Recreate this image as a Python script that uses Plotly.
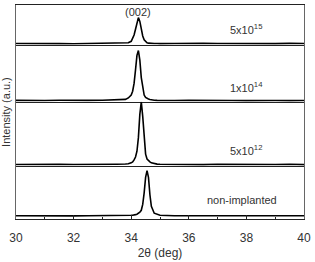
import plotly.graph_objects as go
from plotly.subplots import make_subplots

# --- data ---
two_theta = [30.0, 30.5, 31.0, 31.5, 32.0, 32.5, 33.0, 33.5, 33.8, 33.9, 34.0, 34.05,
             34.1, 34.15, 34.2, 34.25, 34.3, 34.35, 34.4, 34.45, 34.5, 34.55, 34.6,
             34.65, 34.7, 34.8, 34.9, 35.0, 35.5, 36.0, 36.5, 37.0, 37.5, 38.0, 38.5,
             39.0, 39.5, 40.0]

i_5e15 = [0.3, 0.0, 0.4, 0.1, 0.0, 0.3, 0.2, 0.3, 0.6, 1.0, 2.5, 5.0,
          9.0, 15.0, 23.0, 27.0, 23.0, 15.0, 8.0, 4.0, 2.0, 1.0, 0.6,
          0.4, 0.3, 0.2, 0.3, 0.1, 0.3, 0.0, 0.4, 0.2, 0.0, 0.5, 0.2,
          0.1, 0.4, 0.2]

i_1e14 = [0.5, 0.2, 0.4, 0.6, 0.3, 0.5, 0.7, 0.9, 1.5, 3.0, 6.0, 10.0,
          18.0, 32.0, 47.0, 52.0, 42.0, 24.0, 12.0, 6.0, 3.5, 2.5, 2.0,
          1.5, 1.0, 0.6, 0.5, 0.4, 0.3, 0.5, 0.2, 0.4, 0.3, 0.2, 0.5,
          0.3, 0.2, 0.4]

i_5e12 = [0.3, 0.5, 0.2, 0.4, 0.3, 0.2, 0.5, 0.6, 0.8, 1.0, 2.0, 3.0,
          5.0, 8.0, 14.0, 28.0, 52.0, 65.0, 50.0, 24.0, 11.0, 6.0, 4.0,
          3.0, 2.0, 1.0, 0.7, 0.5, 0.3, 0.4, 0.2, 0.5, 0.3, 0.2, 0.4,
          0.3, 0.5, 0.2]

i_non = [0.4, 0.2, 0.5, 0.3, 0.2, 0.4, 0.3, 0.4, 0.5, 0.6, 0.8, 0.9,
         1.0, 1.5, 2.0, 3.0, 4.0, 6.0, 12.0, 24.0, 40.0, 47.0, 40.0,
         22.0, 10.0, 3.0, 1.5, 0.8, 0.4, 0.3, 0.5, 0.2, 0.4, 0.3, 0.5,
         0.2, 0.4, 0.3]

series = [("5x10<sup>15</sup>", i_5e15), ("1x10<sup>14</sup>", i_1e14),
          ("5x10<sup>12</sup>", i_5e12), ("non-implanted", i_non)]

x_ticks = [30, 32, 34, 36, 38, 40]

FONT = "Liberation Sans, Arial"

# --- figure ---
fig = make_subplots(rows=4, cols=1, shared_xaxes=True, vertical_spacing=0,
                    row_heights=[41, 59, 66, 55])

y_ranges = [[-1, 40], [-1, 58], [-1, 65], [-3, 52]]
label_y = [15, 14, 15, 17]

for r, ((name, vals), yr, ly) in enumerate(zip(series, y_ranges, label_y), start=1):
    fig.add_trace(go.Scatter(x=two_theta, y=vals, mode="lines",
                             line=dict(color="black", width=1.6),
                             showlegend=False), row=r, col=1)
    fig.update_yaxes(range=yr, showticklabels=False, ticks="", showgrid=False,
                     zeroline=False, showline=True, linecolor="#666", linewidth=1,
                     mirror=True, row=r, col=1)
    fig.update_xaxes(range=[30, 40], showgrid=False, zeroline=False,
                     showline=True, linecolor="#222", linewidth=1,
                     mirror=(r == 1), row=r, col=1)
    fig.add_annotation(x=38.0 if r < 4 else 37.85, y=ly, xref=f"x{'' if r == 1 else r}",
                       yref=f"y{'' if r == 1 else r}", text=name, showarrow=False,
                       font=dict(family=FONT, size=11, color="#333"))

fig.add_annotation(x=34.25, y=33, xref="x", yref="y", text="(002)", showarrow=False,
                   font=dict(family=FONT, size=11, color="#333"))

fig.update_xaxes(showticklabels=False, ticks="")
fig.update_xaxes(row=4, col=1, showticklabels=True, tickvals=x_ticks,
                 ticks="inside", ticklen=4, tickcolor="#222", ticklabelstandoff=8,
                 minor=dict(ticks="inside", ticklen=2, dtick=1, tickcolor="#222"),
                 tickfont=dict(family=FONT, size=12, color="#333"),
                 title=dict(text="2θ (deg)", standoff=4,
                            font=dict(family=FONT, size=12, color="#333")))

fig.add_annotation(x=-0.035, y=0.5, xref="paper", yref="paper", text="Intensity (a.u.)",
                   textangle=-90, showarrow=False, xanchor="center",
                   font=dict(family=FONT, size=11, color="#333"))

fig.update_layout(width=315, height=262, margin=dict(l=16, r=7, t=4, b=37),
                  paper_bgcolor="white", plot_bgcolor="white")

fig.write_html("out.html")
